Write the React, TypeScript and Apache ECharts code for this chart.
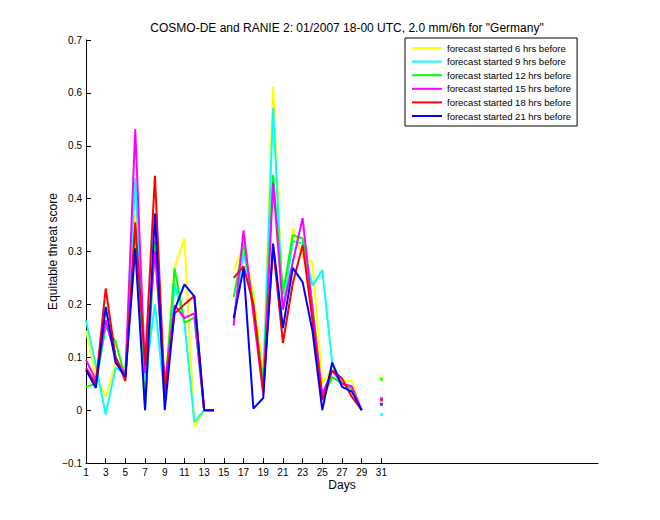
import React, { useEffect, useRef } from "react";
import * as echarts from "echarts";

const TITLE = 'COSMO-DE and RANIE 2: 01/2007 18-00 UTC, 2.0 mm/6h for "Germany"';
const X_NAME = "Days";
const Y_NAME = "Equitable threat score";

const days = [1, 2, 3, 4, 5, 6, 7, 8, 9, 10, 11, 12, 13, 14, 15, 16, 17, 18, 19, 20, 21, 22, 23, 24, 25, 26, 27, 28, 29, 30, 31];
const xTickValues = [1, 3, 5, 7, 9, 11, 13, 15, 17, 19, 21, 23, 25, 27, 29, 31];
const seriesNames = [
  "forecast started 6 hrs before",
  "forecast started 9 hrs before",
  "forecast started 12 hrs before",
  "forecast started 15 hrs before",
  "forecast started 18 hrs before",
  "forecast started 21 hrs before",
];
const seriesColors = ["#ffff00", "#00ffff", "#00ff00", "#ff00ff", "#ff0000", "#0000ff"];

const fc6 = [0.15, 0.065, 0.025, 0.09, 0.08, 0.37, 0.04, 0.3, 0.04, 0.27, 0.325, -0.031, 0, 0, null, 0.265, 0.31, 0.22, 0.07, 0.611, 0.19, 0.344, 0.29, 0.28, 0.05, 0.08, 0.055, 0.055, 0, null, 0.063];
const fc9 = [0.17, 0.085, -0.008, 0.08, 0.07, 0.44, 0.06, 0.2, 0.02, 0.24, 0.165, -0.022, 0, 0, null, 0.17, 0.3, 0.2, 0.05, 0.571, 0.19, 0.32, 0.315, 0.236, 0.265, 0.09, 0.05, 0.04, 0, null, -0.008];
const fc12 = [0.044, 0.05, 0.157, 0.13, 0.06, 0.345, 0.0, 0.32, 0.03, 0.268, 0.165, 0.175, 0, 0, null, 0.214, 0.315, 0.2, 0.05, 0.445, 0.22, 0.331, 0.325, 0.2, 0.02, 0.063, 0.05, 0.04, 0, null, 0.058];
const fc15 = [0.095, 0.057, 0.17, 0.1, 0.065, 0.531, 0.07, 0.3, 0.05, 0.198, 0.174, 0.183, 0, 0, null, 0.16, 0.34, 0.18, 0.03, 0.43, 0.19, 0.28, 0.363, 0.19, 0.03, 0.075, 0.05, 0.045, 0, null, 0.022];
const fc18 = [0.08, 0.05, 0.23, 0.1, 0.055, 0.355, 0.085, 0.443, 0.03, 0.183, 0.2, 0.216, 0, 0, null, 0.25, 0.272, 0.2, 0.035, 0.31, 0.127, 0.24, 0.312, 0.17, 0.019, 0.075, 0.06, 0.025, 0, null, 0.019];
const fc21 = [0.076, 0.042, 0.195, 0.09, 0.063, 0.306, 0, 0.372, 0, 0.19, 0.238, 0.215, 0, 0, null, 0.174, 0.268, 0.003, 0.023, 0.315, 0.155, 0.269, 0.242, 0.15, 0, 0.09, 0.044, 0.035, 0, null, 0.011];

const seriesValues = [fc6, fc9, fc12, fc15, fc18, fc21];

const FONT = "Liberation Sans, Arial, Helvetica, sans-serif";

export default function App() {
  const ref = useRef<HTMLDivElement>(null);
  useEffect(() => {
    if (!ref.current) return;
    const chart = echarts.init(ref.current, null, { renderer: "svg" });
    const lineSeries = seriesValues.map((vals, k) => ({
      name: seriesNames[k],
      type: "line",
      symbol: "none",
      connectNulls: false,
      lineStyle: { color: seriesColors[k], width: 2 },
      itemStyle: { color: seriesColors[k] },
      data: days.map((d, i) => [d, vals[i] == null ? "-" : vals[i]]),
      z: 2 + k,
    }));
    // isolated points (neighbours missing) are drawn as small dots
    const dotSeries = seriesValues.map((vals, k) => ({
      name: "dots" + k,
      type: "scatter",
      symbol: "rect",
      symbolSize: 3,
      itemStyle: { color: seriesColors[k] },
      data: days
        .map((d, i) => [d, vals[i]])
        .filter((p, i) => p[1] != null && vals[i - 1] == null && (i + 1 >= vals.length || vals[i + 1] == null)),
      z: 2 + k,
    }));
    chart.setOption({
      animation: false,
      backgroundColor: "#ffffff",
      textStyle: { fontFamily: FONT },
      title: {
        text: TITLE,
        left: 342,
        textAlign: "center",
        top: 17,
        textStyle: { fontSize: 12, fontWeight: "normal", color: "#000", fontFamily: FONT },
      },
      legend: {
        data: seriesNames,
        orient: "vertical",
        left: 405,
        top: 38,
        itemWidth: 30,
        itemHeight: 10,
        itemGap: 3.6,
        padding: [5, 6, 5, 6],
        borderColor: "#000",
        borderWidth: 1,
        backgroundColor: "#fff",
        itemStyle: { opacity: 0 },
        lineStyle: { width: 2 },
        textStyle: { fontSize: 9.5, color: "#000", fontFamily: FONT },
      },
      grid: { left: 86, right: 62, top: 40, bottom: 57, containLabel: false },
      xAxis: {
        type: "value",
        min: 1,
        max: 53,
        name: X_NAME,
        nameLocation: "middle",
        nameGap: 16,
        nameMoveOverlap: false,
        nameTextStyle: { fontSize: 12, color: "#000", fontFamily: FONT },
        axisLine: { show: true, onZero: false, lineStyle: { color: "#000", width: 1 } },
        axisTick: { show: true, inside: true, length: 5, lineStyle: { color: "#000" }, customValues: xTickValues },
        axisLabel: { color: "#000", fontSize: 10, margin: 4, customValues: xTickValues, fontFamily: FONT },
        splitLine: { show: false },
      },
      yAxis: {
        type: "value",
        min: -0.1,
        max: 0.7,
        interval: 0.1,
        name: Y_NAME,
        nameLocation: "middle",
        nameGap: 27,
        nameMoveOverlap: false,
        nameTextStyle: { fontSize: 12, color: "#000", fontFamily: FONT },
        axisLine: { show: true, onZero: false, lineStyle: { color: "#000", width: 1 } },
        axisTick: { show: true, inside: true, length: 5, lineStyle: { color: "#000" } },
        axisLabel: {
          color: "#000",
          fontSize: 10,
          margin: 4,
          fontFamily: FONT,
          formatter: (v: number) => {
            const r = Math.round(v * 10) / 10;
            if (r === 0) return "0";
            return r < 0 ? "\u2212" + Math.abs(r).toFixed(1) : r.toFixed(1);
          },
        },
        splitLine: { show: false },
      },
      series: [...lineSeries, ...dotSeries],
    });
    return () => chart.dispose();
  }, []);
  return (
    <div
      ref={ref}
      style={{ position: "fixed", left: 0, top: 0, width: 660, height: 520, background: "#fff" }}
    />
  );
}
